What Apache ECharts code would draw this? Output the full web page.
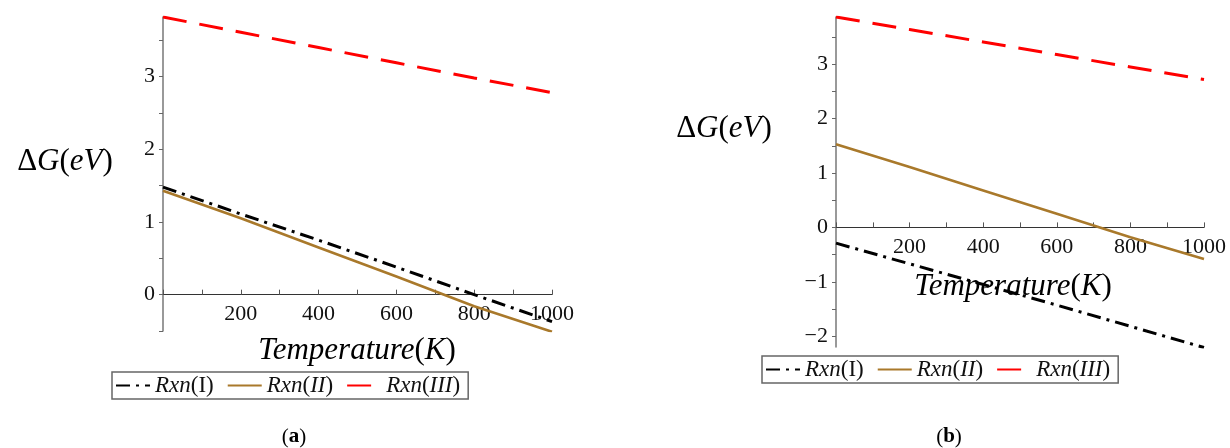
<!DOCTYPE html>
<html><head><meta charset="utf-8">
<script src="https://cdn.jsdelivr.net/npm/echarts@6/dist/echarts.min.js"></script>
<style>html,body{margin:0;padding:0;background:#fff}#c{width:1230px;height:448px}</style>
</head><body><div id="c"></div>
<script>
// ---- data ----
const temps = [0, 200, 400, 600, 800, 1000];
// panel (a)
const rxnI_a   = [1.48, 1.11, 0.75, 0.38, 0.00, -0.37];
const rxnII_a  = [1.43, 1.05, 0.65, 0.25, -0.16, -0.51];
const rxnIII_a = [3.82, 3.61, 3.40, 3.19, 2.98, 2.78];
// panel (b)
const rxnI_b   = [-0.29, -0.67, -1.05, -1.43, -1.82, -2.21];
const rxnII_b  = [1.53, 1.11, 0.68, 0.25, -0.18, -0.58];
const rxnIII_b = [3.87, 3.64, 3.41, 3.18, 2.95, 2.72];
// ticks / labels
const xTickLabels = [200, 400, 600, 800, 1000];
const xTicks = [0, 100, 200, 300, 400, 500, 600, 700, 800, 900, 1000];
const yLabels_a = [0, 1, 2, 3];
const yTicks_a = [-0.5, 0, 0.5, 1, 1.5, 2, 2.5, 3, 3.5];
const yLabels_b = [-2, -1, 0, 1, 2, 3];
const yTicks_b = [-2, -1.5, -1, -0.5, 0, 0.5, 1, 1.5, 2, 2.5, 3, 3.5];
const yRange_a = [-0.5, 3.82];
const yRange_b = [-2.2, 3.87];
const seriesNames = ['Rxn(I)', 'Rxn(II)', 'Rxn(III)'];
const panelLabels = ['a', 'b'];

const SERIF = '"Liberation Serif", "DejaVu Serif", serif';
const C_I = '#000000', C_II = '#A9792B', C_III = '#FF0000';
const pts = arr => temps.map((t, i) => [t, arr[i]]);

const H = 448;
const gridA = { left: 163, right: 678, top: 17, bottom: 117 };
const gridB = { left: 836, right: 26, top: 17, bottom: 101 };
// distance (px) of the y=0 line above the grid bottom, so the x axis sits on zero
function zeroLift(g, r) { return (0 - r[0]) / (r[1] - r[0]) * (H - g.top - g.bottom); }

function xAx(gi, lift) {
  return {
    type: 'value', gridIndex: gi, min: 0, max: 1000, position: 'bottom', offset: -lift,
    axisLine: { show: true, onZero: false, lineStyle: { color: '#333', width: 1.2 } },
    axisTick: { show: true, inside: true, length: 5, customValues: xTicks, lineStyle: { color: '#555' } },
    axisLabel: { customValues: xTickLabels, margin: 9, fontFamily: SERIF, fontSize: 22, color: '#111',
      formatter: v => String(v) },
    splitLine: { show: false }
  };
}
function yAx(gi, r, labels, ticks) {
  return {
    type: 'value', gridIndex: gi, min: r[0], max: r[1],
    axisLine: { show: true, onZero: false, lineStyle: { color: '#777', width: 1.5 } },
    axisTick: { show: true, length: 4, customValues: ticks, lineStyle: { color: '#666' } },
    axisLabel: { customValues: labels, margin: 8, fontFamily: SERIF, fontSize: 22, color: '#111',
      formatter: v => String(v).replace('-', '\u2212') },
    splitLine: { show: false }
  };
}
const styleI = { color: C_I, width: 3, type: [14, 6, 3, 6] };
const styleII = { color: C_II, width: 2.6, type: 'solid' };
const styleIII = { color: C_III, width: 3, type: [24, 13] };

function mkSeries(name, gi, data, ls) {
  return { name: name, type: 'line', xAxisIndex: gi, yAxisIndex: gi, data: pts(data),
    symbol: 'none', showSymbol: false, smooth: false, lineStyle: ls, itemStyle: { color: ls.color },
    emphasis: { disabled: true } };
}

const legendRich = {
  i: { fontFamily: SERIF, fontStyle: 'italic', fontSize: 23, color: '#111' },
  p: { fontFamily: SERIF, fontSize: 23, color: '#111' }
};
function legendFmt(n) {
  const inner = n.slice(4, -1);
  const innerTxt = inner === 'I' ? '{p|I}' : '{i|' + inner + '}';
  return '{i|Rxn}{p|(}' + innerTxt + '{p|)}';
}
function mkLegend(left, top) {
  return {
    left: left, top: top, orient: 'horizontal', data: seriesNames,
    itemWidth: 34, itemHeight: 14, itemGap: 13, padding: [2, 8, 2, 3],
    borderColor: '#666', borderWidth: 1.5, borderRadius: 0,
    selectedMode: false, formatter: legendFmt,
    itemStyle: { color: 'rgba(0,0,0,0)', borderWidth: 0, opacity: 0 },
    textStyle: { fontFamily: SERIF, fontSize: 23, color: '#111', rich: legendRich }
  };
}

const axisNameRich = {
  u: { fontFamily: SERIF, fontSize: 31, color: '#111' },
  i: { fontFamily: SERIF, fontStyle: 'italic', fontSize: 31, color: '#111' }
};
function txt(x, y, text, rich, align) {
  return { type: 'text', x: x, y: y, silent: true,
    style: { text: text, rich: rich, align: align || 'center', verticalAlign: 'middle' } };
}

const chart = echarts.init(document.getElementById('c'), null, { renderer: 'canvas' });
chart.setOption({
  animation: false,
  backgroundColor: '#fff',
  grid: [
    Object.assign({ containLabel: false }, gridA),
    Object.assign({ containLabel: false }, gridB)
  ],
  xAxis: [xAx(0, zeroLift(gridA, yRange_a)), xAx(1, zeroLift(gridB, yRange_b))],
  yAxis: [yAx(0, yRange_a, yLabels_a, yTicks_a), yAx(1, yRange_b, yLabels_b, yTicks_b)],
  legend: [mkLegend(112, 372), mkLegend(762, 356)],
  series: [
    mkSeries(seriesNames[0], 0, rxnI_a, styleI),
    mkSeries(seriesNames[1], 0, rxnII_a, styleII),
    mkSeries(seriesNames[2], 0, rxnIII_a, styleIII),
    mkSeries(seriesNames[0], 1, rxnI_b, styleI),
    mkSeries(seriesNames[1], 1, rxnII_b, styleII),
    mkSeries(seriesNames[2], 1, rxnIII_b, styleIII)
  ],
  graphic: [
    txt(65, 162, '{u|\u0394}{i|G}{u|(}{i|eV}{u|)}', axisNameRich),
    txt(724, 129, '{u|\u0394}{i|G}{u|(}{i|eV}{u|)}', axisNameRich),
    txt(357, 351, '{i|Temperature}{u|(}{i|K}{u|)}', axisNameRich),
    txt(1013, 287, '{i|Temperature}{u|(}{i|K}{u|)}', axisNameRich),
    txt(294, 437, '{u|(}{b|' + panelLabels[0] + '}{u|)}', {
      u: { fontFamily: SERIF, fontSize: 21, color: '#111' },
      b: { fontFamily: SERIF, fontSize: 21, fontWeight: 'bold', color: '#111' } }),
    txt(949, 437, '{u|(}{b|' + panelLabels[1] + '}{u|)}', {
      u: { fontFamily: SERIF, fontSize: 21, color: '#111' },
      b: { fontFamily: SERIF, fontSize: 21, fontWeight: 'bold', color: '#111' } })
  ]
});
</script>
</body></html>
